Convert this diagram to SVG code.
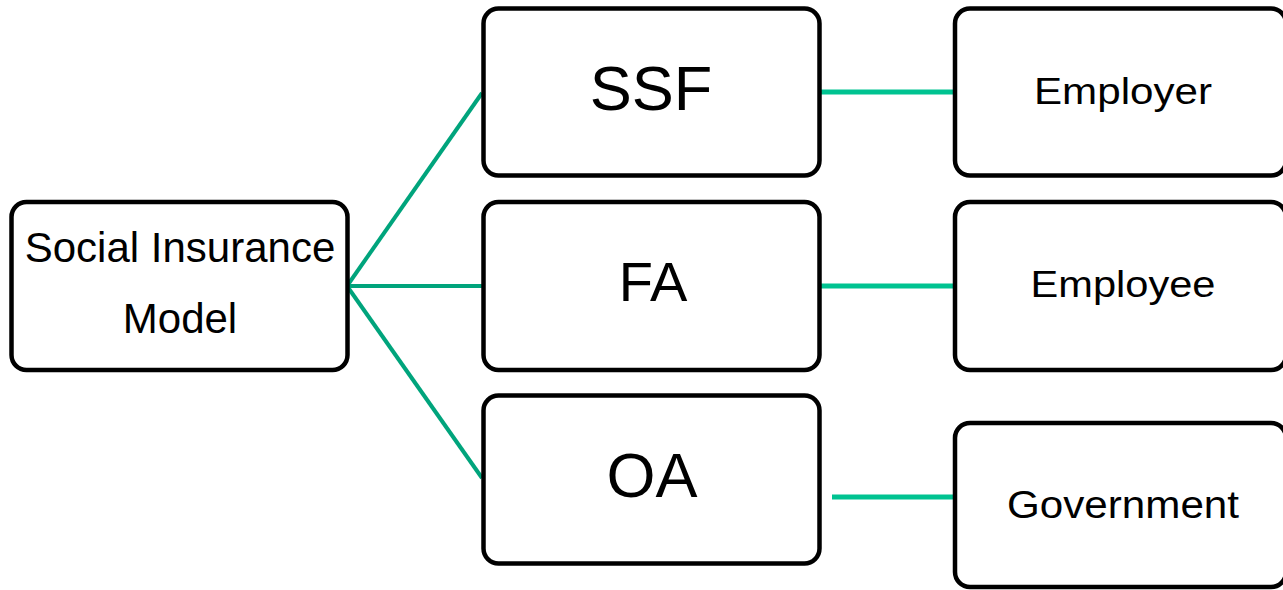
<svg xmlns="http://www.w3.org/2000/svg" width="1283" height="590" viewBox="0 0 1283 590">
  <style>
    .box { fill: #ffffff; stroke: #000000; stroke-width: 4.5; }
    .lbl { font-family: "Liberation Sans", Arial, sans-serif; fill: #000000; text-anchor: middle; }
    .cl { stroke: #00a47c; stroke-width: 4; fill: none; stroke-linecap: butt; }
    .cr { stroke: #00c391; stroke-width: 5; fill: none; }
  </style>
  <rect width="1283" height="590" fill="#ffffff"/>
  <g id="connectors">
    <line class="cl" x1="347" y1="286" x2="482" y2="93"/>
    <line class="cl" x1="347" y1="286" x2="482" y2="286"/>
    <line class="cl" x1="347" y1="286" x2="482" y2="478"/>
    <line class="cr" x1="820" y1="92" x2="954" y2="92"/>
    <line class="cr" x1="820" y1="286" x2="954" y2="286"/>
    <line class="cr" x1="832" y1="497" x2="954" y2="497"/>
  </g>
  <g id="social-insurance-model">
    <rect class="box" x="11.5" y="202" width="336" height="168" rx="15"/>
    <text class="lbl" x="180" y="262" font-size="42">Social Insurance</text>
    <text class="lbl" x="180" y="333" font-size="42">Model</text>
  </g>
  <g id="ssf">
    <rect class="box" x="483.5" y="8.5" width="336" height="167" rx="15"/>
    <text class="lbl" x="651" y="110" font-size="63">SSF</text>
  </g>
  <g id="fa">
    <rect class="box" x="483.5" y="202" width="336" height="168" rx="15"/>
    <text class="lbl" x="653" y="301" font-size="56">FA</text>
  </g>
  <g id="oa">
    <rect class="box" x="483.5" y="395.5" width="336" height="168" rx="15"/>
    <text class="lbl" x="652" y="497" font-size="63">OA</text>
  </g>
  <g id="employer">
    <rect class="box" x="955" y="8.5" width="331" height="167" rx="15"/>
    <text class="lbl" x="1123" y="104" font-size="37" textLength="178" lengthAdjust="spacingAndGlyphs">Employer</text>
  </g>
  <g id="employee">
    <rect class="box" x="955" y="202" width="331" height="168" rx="15"/>
    <text class="lbl" x="1123" y="297" font-size="37" textLength="185" lengthAdjust="spacingAndGlyphs">Employee</text>
  </g>
  <g id="government">
    <rect class="box" x="955" y="423" width="331" height="164" rx="15"/>
    <text class="lbl" x="1123" y="518" font-size="38" textLength="232" lengthAdjust="spacingAndGlyphs">Government</text>
  </g>
</svg>
